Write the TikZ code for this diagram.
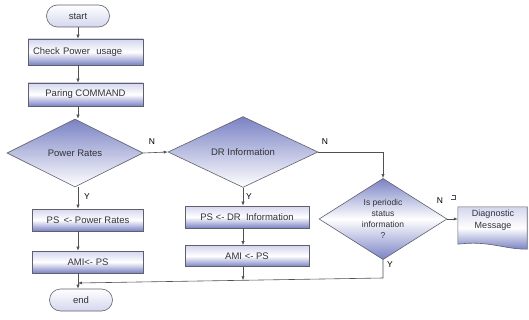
\documentclass[tikz,border=0pt]{standalone}
\usepackage{fontspec}
\setmainfont{Liberation Sans}
\usetikzlibrary{shapes.geometric,arrows.meta}
\definecolor{fbBlue}{RGB}{122,130,196}
\definecolor{fbLight}{RGB}{212,214,238}
\definecolor{fbEdge}{RGB}{96,96,108}
\definecolor{fbLine}{RGB}{80,80,84}
\definecolor{fbText}{RGB}{50,50,56}
\begin{document}
\begin{tikzpicture}[x=1pt,y=-1pt,
  every node/.style={font=\fontsize{9.5}{11}\selectfont, text=fbText},
  procbox/.style={rectangle, draw=fbEdge, line width=0.6pt, inner sep=0pt,
    top color=fbLight, bottom color=fbBlue, middle color=white, minimum height=22pt},
  termbox/.style={rectangle, rounded corners=11pt, draw=fbEdge, line width=0.6pt, inner sep=0pt,
    top color=white, bottom color=fbLight, minimum width=63pt, minimum height=22pt},
  decide/.style={diamond, draw=fbEdge, line width=0.6pt, inner sep=0pt,
    top color=fbBlue, bottom color=white},
  arr/.style={draw=fbLine, line width=0.6pt, -{Latex[length=4pt,width=3.2pt]}},
  lbl/.style={font=\fontsize{8.5}{10}\selectfont, text=black, inner sep=0pt}]
\useasboundingbox (0,0) rectangle (529,320);

% main column
\node[termbox] (start) at (78,16) {start};
\node[procbox, minimum width=115pt, minimum height=26pt, text width=105pt, align=left] (check) at (85.5,52) {Check Power\ \ usage};
\node[procbox, minimum width=115pt, minimum height=23pt] (paring) at (85.5,94.5) {Paring COMMAND};
\node[decide, minimum width=136pt, minimum height=68pt] (rates) at (75,153) {Power Rates};
\node[procbox, minimum width=111pt] (ps1) at (88,220) {PS \,<- Power Rates};
\node[procbox, minimum width=111pt] (ami1) at (88,262) {AMI<- PS};
\node[termbox] (end) at (81,300) {end};

% DR column
\node[decide, minimum width=150pt, minimum height=68pt] (dr) at (243,152) {DR Information};
\node[procbox, minimum width=124pt] (ps2) at (247,217) {PS <- DR\ \ Information};
\node[procbox, minimum width=124pt, minimum height=21pt] (ami2) at (247,256) {AMI <- PS};

% periodic status check
\node[decide, minimum width=128pt, minimum height=68pt, top color=fbBlue, bottom color=fbBlue, middle color=white,
  align=center, font=\fontsize{8.5}{11}\selectfont] (per) at (383,219) {Is periodic\\status\\information\\?};

% diagnostic message (document shape)
\node[minimum width=69pt, minimum height=36pt, inner sep=0pt] (diag) at (492.5,225) {};
\shade[top color=fbLight, bottom color=fbBlue, middle color=white, draw=fbEdge, line width=0.6pt]
  (diag.north west) -- (diag.north east) -- ([yshift=-6pt]diag.south east)
  .. controls ([xshift=-24pt,yshift=-6pt]diag.south east) and ([xshift=30pt,yshift=3pt]diag.south west)
  .. ([yshift=-1pt]diag.south west) -- cycle;
\node[align=center, font=\fontsize{9}{12}\selectfont] (diagtext) at (493,220) {Diagnostic\\Message};

% junction points of the return line
\coordinate (bend) at (per.south |- 0,278);
\coordinate (merge) at (start.south |- 0,283);
\coordinate (drop) at (243,280.3);

% connectors
\draw[arr] (start.south) -- (check.north -| start.south);
\draw[arr] (check.south -| start.south) -- (paring.north -| start.south);
\draw[arr] (paring.south -| start.south) -- (rates.north -| start.south);
\draw[arr] (rates.south -| start.south) -- (ps1.north -| start.south);
\draw[arr] (ps1.south -| start.south) -- (ami1.north -| start.south);
\draw[arr] (ami1.south -| start.south) -- (end.north -| start.south);
\draw[arr] (rates.east) -- (dr.west);
\draw[arr] (dr.south) -- (ps2.north -| dr.south);
\draw[arr] (ps2.south -| dr.south) -- (ami2.north -| dr.south);
\draw[arr] (ami2.south -| dr.south) -- (drop);
\draw[arr] (dr.east) -- (dr.east -| per.north) -- (per.north);
\draw[arr] (per.east) -- (diag.west |- per.east);
\draw[arr] (per.south) -- (bend) -- (merge);

% branch labels
\node[lbl] (n1) at (152,142) {N};
\node[lbl] (y1) at (87,197) {Y};
\node[lbl] (n2) at (325,142) {N};
\node[lbl] (y2) at (249,197) {Y};
\node[lbl] (n3) at (440,201) {N};
\node[lbl] (y3) at (390,265) {Y};
\draw[fbLine, line width=0.4pt] (452,195) -- (455,195) -- (455,199) -- (450.5,199);
\end{tikzpicture}
\end{document}
